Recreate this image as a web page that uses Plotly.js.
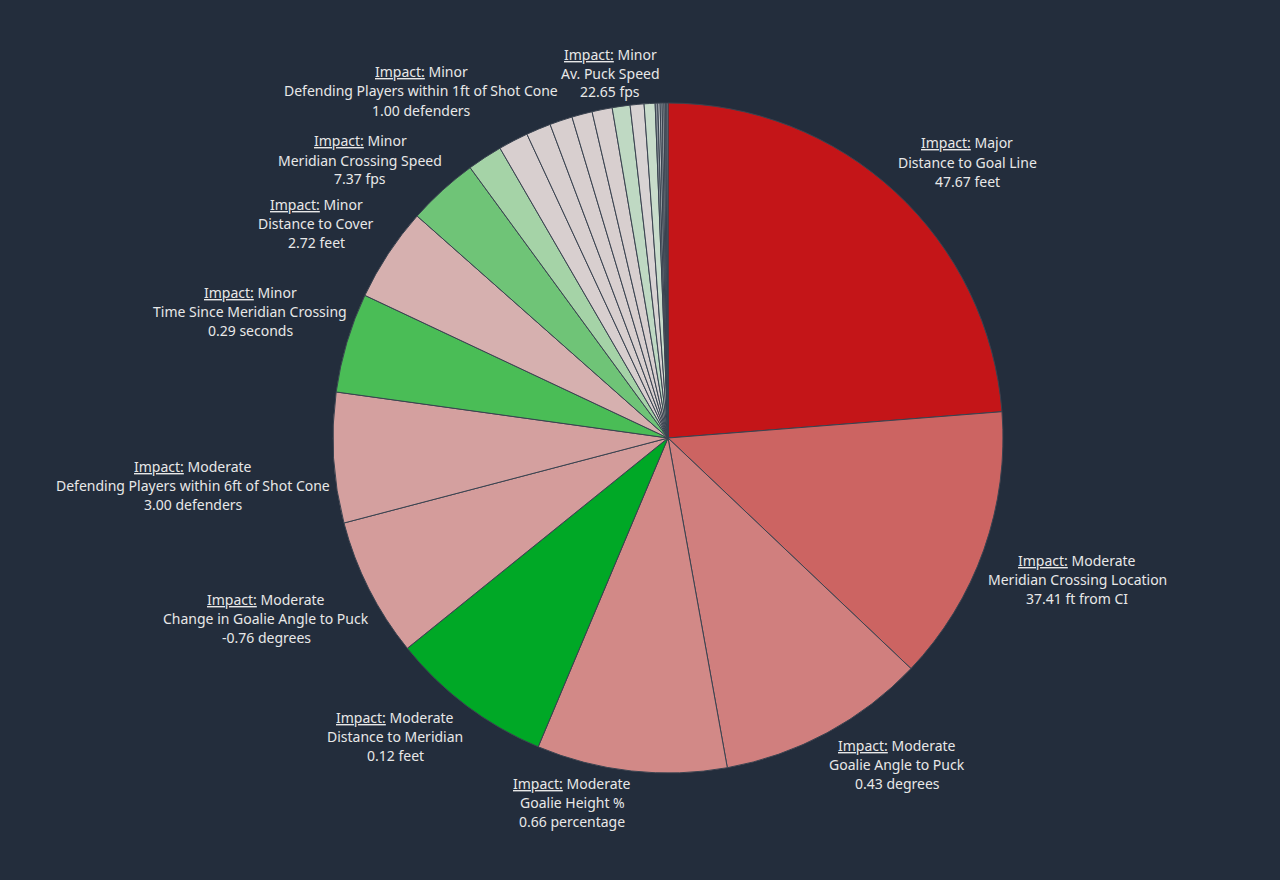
<!DOCTYPE html>
<html>
<head>
<meta charset="utf-8">
<script src="https://cdn.plot.ly/plotly-3.0.1.min.js"></script>
<style>
  html, body { margin: 0; padding: 0; background: #232D3C; }
  #chart { width: 1280px; height: 880px; }
</style>
</head>
<body>
<div id="chart"></div>
<script>
// ---- data ----
const features = [
  "Distance to Goal Line", "Meridian Crossing Location", "Goalie Angle to Puck",
  "Goalie Height %", "Distance to Meridian", "Change in Goalie Angle to Puck",
  "Defending Players within 6ft of Shot Cone", "Time Since Meridian Crossing",
  "Distance to Cover", "Meridian Crossing Speed", "Defending Players within 1ft of Shot Cone",
  "Feature 12", "Feature 13", "Feature 14", "Feature 15", "Feature 16",
  "Av. Puck Speed", "Feature 18", "Feature 19",
  "Feature 20", "Feature 21", "Feature 22", "Feature 23", "Feature 24", "Feature 25", "Feature 26"
];
const impactShare = [
  85.5, 48.0, 36.3, 33.0, 28.3, 24.2, 22.6, 17.3, 16.3, 12.3, 6.1,
  5.2, 4.3, 3.95, 3.55, 3.5, 3.1, 2.4, 1.9,
  0.45, 0.4, 0.35, 0.3, 0.3, 0.2, 0.2
];
const sliceColors = [
  "#C41518", "#CC6462", "#D07F7E", "#D28987", "#00A826", "#D49C9B", "#D4A09F",
  "#4ABD56", "#D6B0AF", "#6FC477", "#A5D3A7",
  "#D8CFCF", "#D8CFCF", "#D8CFCF", "#D8CFCF", "#D8CFCF",
  "#BFD9C3", "#D8D3D3", "#C8DCCB",
  "#8A9199", "#C6CACC", "#9BA1A8", "#D0D3D3", "#7E858E", "#B8BDC0", "#A0A6AC"
];
// labels: [impact level, feature name, value text]
const labelImpact = ["Major", "Moderate", "Moderate", "Moderate", "Moderate", "Moderate",
  "Moderate", "Minor", "Minor", "Minor", "Minor", "Minor"];
const labelFeature = ["Distance to Goal Line", "Meridian Crossing Location", "Goalie Angle to Puck",
  "Goalie Height %", "Distance to Meridian", "Change in Goalie Angle to Puck",
  "Defending Players within 6ft of Shot Cone", "Time Since Meridian Crossing",
  "Distance to Cover", "Meridian Crossing Speed", "Defending Players within 1ft of Shot Cone",
  "Av. Puck Speed"];
const labelValue = ["47.67 feet", "37.41 ft from CI", "0.43 degrees", "0.66 percentage",
  "0.12 feet", "-0.76 degrees", "3.00 defenders", "0.29 seconds", "2.72 feet",
  "7.37 fps", "1.00 defenders", "22.65 fps"];
// label block positions (pixel centre x, first line y)
const labelX = [967, 1077, 897, 572, 395, 266, 193, 250, 316, 360, 421, 610];
const labelY = [143, 560, 745, 783, 717, 599, 466, 292, 204, 141, 72, 54];

// ---- chart ----
const W = 1280, H = 880;
const cx = 668, cy = 438, R = 335;

const trace = {
  type: "pie",
  labels: features,
  values: impactShare,
  sort: false,
  direction: "clockwise",
  rotation: 0,
  textinfo: "none",
  hoverinfo: "label+percent",
  marker: { colors: sliceColors, line: { color: "#3A4350", width: 1 } },
  domain: {
    x: [(cx - R) / W, (cx + R) / W],
    y: [1 - (cy + R) / H, 1 - (cy - R) / H]
  },
  showlegend: false
};

const font = { family: "Noto Sans, Open Sans, sans-serif", size: 14, color: "#E8E8E8" };
const annotations = [];
const lineGap = 19;
for (let i = 0; i < labelFeature.length; i++) {
  const lines = [
    "<u>Impact:</u> " + labelImpact[i],
    labelFeature[i],
    labelValue[i]
  ];
  lines.forEach((t, k) => {
    annotations.push({
      xref: "paper", yref: "paper",
      x: labelX[i] / W, y: 1 - (labelY[i] + k * lineGap) / H,
      xanchor: "center", yanchor: "middle",
      text: t, showarrow: false, font: font
    });
  });
}

const layout = {
  width: W, height: H,
  margin: { l: 0, r: 0, t: 0, b: 0 },
  paper_bgcolor: "#232D3C",
  plot_bgcolor: "#232D3C",
  annotations: annotations
};

Plotly.newPlot("chart", [trace], layout, { displayModeBar: false, staticPlot: true });
</script>
</body>
</html>
